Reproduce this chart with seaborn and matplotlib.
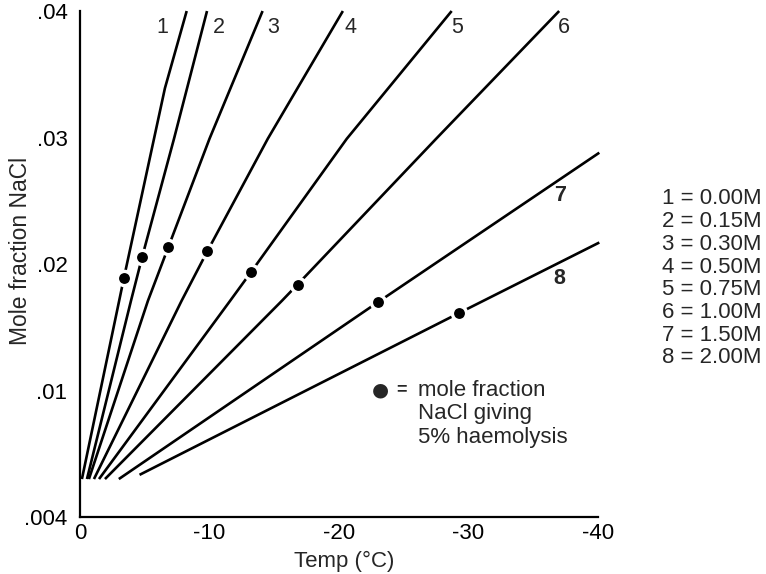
import numpy as np
import pandas as pd
import matplotlib
matplotlib.use("Agg")
import matplotlib.pyplot as plt
import seaborn as sns

# Freezing curves: temperature (deg C) vs mole fraction NaCl, one per glycerol level
temp_1 = [-0.15, -3.40, -6.56, -8.24]
frac_1 = [0.0058, 0.01893, 0.0339, 0.0400]
temp_2 = [-0.54, -3.94, -4.81, -7.26, -9.81]
frac_2 = [0.0058, 0.0171, 0.02059, 0.0299, 0.0400]
temp_3 = [-0.69, -5.25, -6.82, -10.0, -14.1]
frac_3 = [0.0058, 0.0171, 0.02133, 0.0299, 0.0400]
temp_4 = [-1.08, -7.85, -9.83, -14.5, -20.3]
frac_4 = [0.0058, 0.0171, 0.0210, 0.0299, 0.0400]
temp_5 = [-1.47, -11.6, -13.2, -20.6, -28.7]
frac_5 = [0.0058, 0.0171, 0.01935, 0.0299, 0.0400]
temp_6 = [-1.93, -15.6, -16.8, -27.5, -37.0]
frac_6 = [0.0058, 0.0171, 0.01838, 0.0299, 0.0400]
temp_7 = [-3.0, -23.0, -40.1]
frac_7 = [0.0058, 0.01698, 0.0288]
temp_8 = [-4.6, -29.3, -40.1]
frac_8 = [0.0060, 0.01614, 0.0217]

# Points giving 5% haemolysis on each curve
dot_temp = [-3.40, -4.81, -6.82, -9.83, -13.2, -16.8, -23.0, -29.3]
dot_frac = [0.01893, 0.02059, 0.02133, 0.0210, 0.01935, 0.01838, 0.01698, 0.01614]

curve_ids = ["1", "2", "3", "4", "5", "6", "7", "8"]
molarity = ["0.00M", "0.15M", "0.30M", "0.50M", "0.75M", "1.00M", "1.50M", "2.00M"]

x_ticks = [0, -10, -20, -30, -40]
x_ticklabels = ["0", "-10", "-20", "-30", "-40"]
y_ticks = [0.004, 0.01, 0.02, 0.03, 0.04]
y_ticklabels = [".004", ".01", ".02", ".03", ".04"]

temps = [temp_1, temp_2, temp_3, temp_4, temp_5, temp_6, temp_7, temp_8]
fracs = [frac_1, frac_2, frac_3, frac_4, frac_5, frac_6, frac_7, frac_8]
curves = pd.concat(
    [pd.DataFrame({"temp": t, "frac": f, "curve": cid})
     for cid, t, f in zip(curve_ids, temps, fracs)],
    ignore_index=True,
)
dots = pd.DataFrame({"temp": dot_temp, "frac": dot_frac, "curve": curve_ids})

sns.set_theme(style="white")
plt.rcParams["font.family"] = ["Liberation Sans", "DejaVu Sans"]
plt.rcParams["axes.unicode_minus"] = False

FS = 16

fig = plt.figure(figsize=(7.66, 5.74), dpi=100)
ax = fig.add_axes([0.1044, 0.0993, 0.6763, 0.8815])


# Compressed lower segment: .004-.01 occupies the same height as one .01 step
def _fwd(y):
    y = np.asarray(y, dtype=float)
    return np.where(y < 0.01, (y - 0.004) / 0.006 * 0.01, y)


def _inv(z):
    z = np.asarray(z, dtype=float)
    return np.where(z < 0.01, 0.004 + z * 0.6, z)


ax.set_yscale("function", functions=(_fwd, _inv))

sns.lineplot(data=curves, x="temp", y="frac", units="curve", estimator=None,
             sort=False, color="black", linewidth=1.9, ax=ax, legend=False)
for ln in ax.get_lines():
    ln.set_clip_on(False)
    ln.set_solid_capstyle("butt")

sns.scatterplot(data=dots, x="temp", y="frac", color="black", s=105,
                edgecolor="white", linewidth=2.4, ax=ax, legend=False,
                zorder=5, clip_on=False)

ax.set_xlim(0, -40)
ax.set_ylim(0.004, 0.04)
ax.set_xticks(x_ticks)
ax.set_xticklabels(x_ticklabels)
ax.set_yticks(y_ticks)
ax.set_yticklabels(y_ticklabels)
ax.minorticks_off()

for side in ("top", "right"):
    ax.spines[side].set_visible(False)
for side in ("left", "bottom"):
    ax.spines[side].set_linewidth(1.6)
    ax.spines[side].set_color("black")

ax.tick_params(axis="both", direction="in", length=8.5, width=1.4,
               colors="black", labelsize=FS)
ax.tick_params(axis="y", pad=9)
ax.tick_params(axis="x", pad=4.5)

ax.set_xlabel("Temp (\u00b0C)", fontsize=FS)
ax.set_ylabel("Mole fraction NaCl", fontsize=16.5)
ax.xaxis.set_label_coords(0.51, -0.066)
ax.yaxis.set_label_coords(-0.093, 0.525)

# Curve numbers near the ends of the lines
label_temp = [-6.39, -10.7, -14.93, -20.85, -29.1, -37.4, -37.1, -37.0]
label_frac = [0.0387, 0.0387, 0.0387, 0.0387, 0.0387, 0.0387, 0.02542, 0.01885]
for i, (cid, lt, lf) in enumerate(zip(curve_ids, label_temp, label_frac)):
    ax.text(lt, lf, cid, fontsize=15.5, ha="center", va="center",
            fontweight="bold" if i >= 6 else "normal")

# Key for the dots
ky = 0.251
step = 0.0474
ax.text(0.579, ky, "\u25cf", transform=ax.transAxes, fontsize=14,
        ha="center", va="center", family="DejaVu Sans")
ax.text(0.6216, ky, "=", transform=ax.transAxes, fontsize=13,
        ha="center", va="center", fontweight="bold")
for j, line in enumerate(["mole fraction", "NaCl giving", "5% haemolysis"]):
    ax.text(0.6525, ky - j * step, line, transform=ax.transAxes,
            fontsize=FS, ha="left", va="center")

# Glycerol concentration key
for j, (cid, m) in enumerate(zip(curve_ids, molarity)):
    fig.text(0.864, 1 - (199 + j * 22.7) / 574, f"{cid} = {m}",
             fontsize=FS, ha="left", va="center")

fig.savefig("out.png", dpi=100, facecolor="white")
